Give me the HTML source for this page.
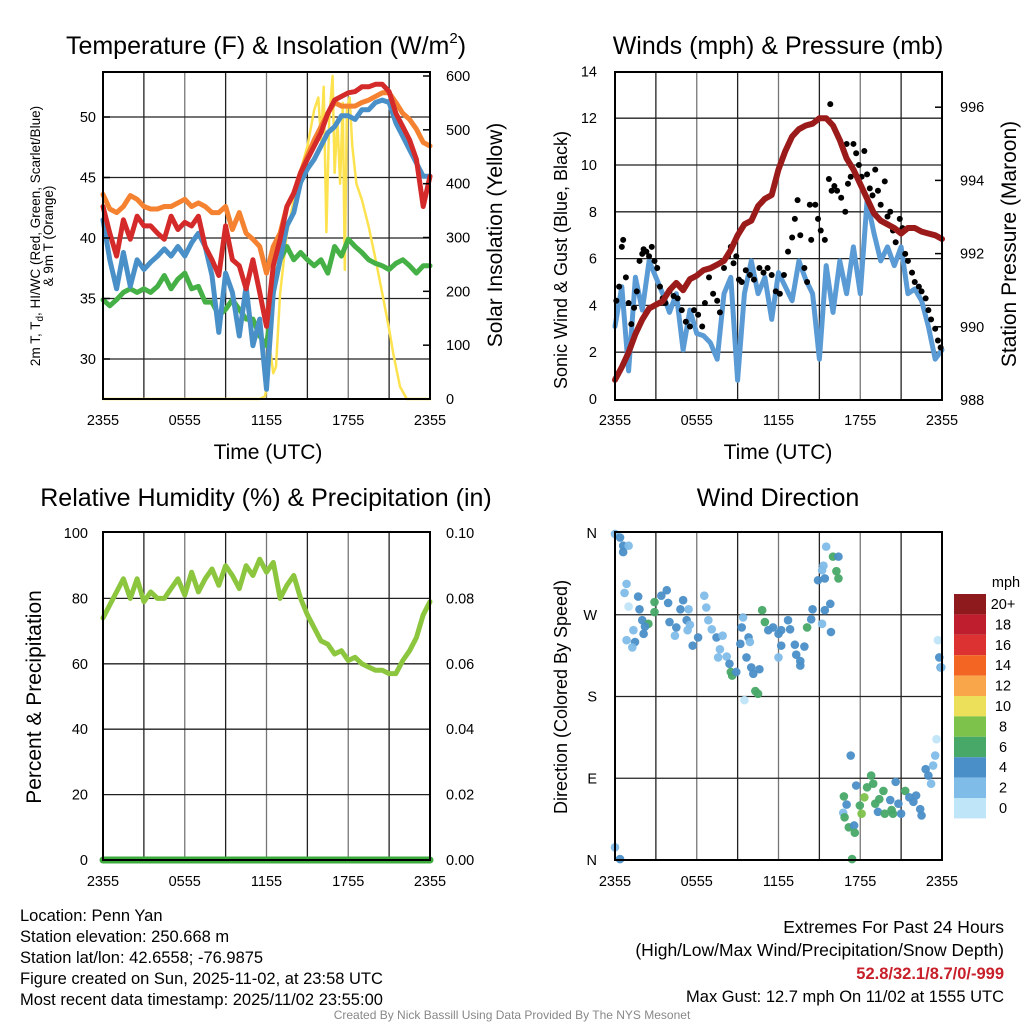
<!DOCTYPE html>
<html><head><meta charset="utf-8"><style>
html,body{margin:0;padding:0;background:#fff;}
svg{display:block;font-family:"Liberation Sans",sans-serif;}
</style></head><body>
<svg id="s" width="1024" height="1024" viewBox="0 0 1024 1024"></svg>
<script>
// ---------- DATA ----------
const hours = [0,0.5,1,1.5,2,2.5,3,3.5,4,4.5,5,5.5,6,6.5,7,7.5,8,8.5,9,9.5,10,10.5,11,11.5,12,12.5,13,13.5,14,14.5,15,15.5,16,16.5,17,17.5,18,18.5,19,19.5,20,20.5,21,21.5,22,22.5,23,23.5,24];
const tempRed = [42.6,40.4,38.5,41.5,39.9,41.8,41.0,41.0,40.4,39.9,41.8,40.7,41.3,41.0,41.8,39.3,38.2,36.9,41.0,38.2,37.7,35.8,38.2,35.5,32.7,37.7,39.9,42.6,43.7,45.4,46.5,47.6,48.7,50.3,51.4,51.7,52.0,52.1,52.5,52.5,52.7,52.7,52.1,50.3,49.2,48.1,46.5,42.6,45.1];
const tempOrange = [43.6,42.4,42.1,42.6,43.5,43.2,42.6,42.4,42.4,42.6,42.6,42.9,43.2,42.6,42.9,42.6,42.1,42.1,42.6,40.7,42.1,40.4,39.9,39.3,37.1,39.3,40.4,42.6,43.7,45.4,46.8,48.1,49.2,50.3,51.2,50.9,50.9,50.9,51.2,51.4,51.7,52.0,52.0,51.2,50.3,49.8,49.0,47.9,47.6];
const tempBlue = [41.5,38.2,35.8,38.8,36.0,38.2,37.4,38.0,38.5,39.1,38.5,39.3,38.5,39.6,40.4,39.3,36.9,32.2,37.1,35.5,31.9,36.0,31.1,33.3,27.5,35.5,38.2,41.0,42.1,44.6,45.7,46.5,47.6,48.7,49.2,50.1,50.1,49.8,50.6,50.6,51.2,51.4,51.2,49.5,48.4,47.3,46.2,45.1,45.1];
const tempGreen = [34.9,34.4,34.9,35.5,35.8,35.5,35.8,35.5,36.0,36.9,35.8,36.6,37.1,35.8,36.0,34.7,34.7,33.6,34.1,34.9,34.1,33.3,33.3,31.9,31.1,35.5,38.2,39.3,38.2,38.8,38.2,37.7,38.2,37.1,39.3,38.5,39.9,39.3,38.8,38.2,37.9,37.7,37.4,37.9,38.2,37.7,37.1,37.7,37.7];
const solarHours = [0,11.5,11.9,12.1,12.3,12.5,12.7,13,13.5,14,14.5,15,15.5,15.8,16.0,16.2,16.4,16.6,16.85,17.0,17.2,17.4,17.6,17.75,17.9,18.1,18.3,18.6,19.0,19.5,20,20.5,21,21.3,21.8,22.3,24];
const solar = [0,0,5,40,85,48,60,196,308,370,425,469,537,560,480,580,310,520,600,420,520,400,550,240,540,560,470,400,370,320,260,196,130,85,23,0,0];
const sonicWind = [3.1,4.8,1.2,5.2,3.8,5.9,5.2,4.5,3.7,4.5,2.1,3.8,2.8,2.7,2.4,1.7,4.5,5.2,0.8,4.5,5.9,4.5,5.2,3.4,5.4,4.8,4.2,5.9,5.1,4.5,1.7,5.7,3.7,5.9,4.5,6.5,4.5,8.5,7.1,5.9,6.5,5.7,6.5,4.5,4.7,4.2,3.1,1.7,2.1];
const pressure = [988.55,988.9,989.3,989.8,990.2,990.5,990.6,990.7,991.0,991.2,991.0,991.3,991.4,991.55,991.6,991.7,991.8,992.1,992.5,992.8,992.9,993.3,993.5,993.6,994.3,994.8,995.2,995.4,995.5,995.55,995.7,995.7,995.5,995.1,994.6,994.3,993.9,993.5,993.1,992.9,992.8,992.7,992.55,992.7,992.7,992.6,992.55,992.5,992.4];
const gustHours = [0.1,0.3,0.5,0.6,0.8,1.0,1.2,1.4,1.6,1.8,2.0,2.1,2.3,2.5,2.7,2.9,3.1,3.3,3.5,3.7,4.0,4.3,4.6,4.9,5.2,5.5,5.8,6.1,6.4,6.6,6.9,7.2,7.5,7.7,8.0,8.3,8.5,8.7,8.9,9.1,9.3,9.6,9.9,10.2,10.6,10.9,11.2,11.5,11.8,12.1,12.4,12.7,13.0,13.2,13.4,13.6,13.9,14.1,14.4,14.7,14.9,15.1,15.4,15.7,15.9,16.1,16.3,16.6,16.9,17.1,17.3,17.5,17.7,17.9,18.1,18.3,18.5,18.7,18.9,19.1,19.3,19.5,19.8,20.0,20.2,20.4,20.6,20.9,21.1,21.3,21.5,21.8,22.0,22.3,22.5,22.8,23.0,23.2,23.5,23.7,23.9,15.8,17.0,14.3];
const gusts = [4.2,4.8,6.5,6.8,5.2,4.1,3.2,3.9,4.6,5.9,6.2,6.4,6.3,6.1,6.5,5.9,5.6,4.8,4.3,4.1,4.6,4.4,4.3,3.8,3.3,3.1,3.8,3.6,3.1,4.1,5.2,4.5,4.2,3.7,5.6,6.1,6.5,5.8,6.1,5.1,5.0,5.5,5.3,5.1,5.6,5.4,5.6,5.3,4.6,4.5,5.3,6.3,6.9,7.7,8.5,7.0,5.6,5.0,6.8,8.3,7.7,7.2,6.8,9.4,8.9,9.1,8.9,8.6,8.0,9.2,9.5,10.9,10.5,10.0,9.5,10.6,9.6,9.0,8.7,9.8,8.9,8.3,9.3,7.8,8.0,7.2,6.7,7.7,7.3,6.2,5.9,5.4,5.0,4.8,4.6,4.3,3.8,3.4,3.0,2.5,2.2,12.6,10.9,8.3];
const rh = [74,78,82,86,80,86,79,82,80,80,83,86,81,88,82,86,89,84,90,87,83,90,87,92,88,91,80,84,87,80,75,71,67,66,63,64,61,62,60,59,58,58,57,57,61,64,68,75,79];
const precip = [0,0,0,0,0,0,0,0,0,0,0,0,0,0,0,0,0,0,0,0,0,0,0,0,0,0,0,0,0,0,0,0,0,0,0,0,0,0,0,0,0,0,0,0,0,0,0,0,0];
const dirHours = [0,0.37,0.6,1,0.6,0.85,0.7,1.7,1.0,1.8,2,2.45,2.2,1.35,0.85,1.47,1.27,2.1,2.9,2.9,3.4,3.8,3.9,4.0,4.4,4.5,4.8,5.0,5.4,5.26,5.5,5.33,5.7,6.1,6.55,6.7,6.85,7.1,7.45,7.9,7.7,7.57,8.2,8.4,8.5,8.6,8.9,9.2,9.3,9.4,9.8,9.65,9.9,10.0,10.15,10.6,10.3,10.5,9.5,10.8,11.0,11.25,11.6,12.0,12.2,12.7,12.85,12.0,12.2,13.2,13.3,13.6,13.6,13.9,14.1,14.4,14.5,15.2,15.4,15.85,15.8,14.9,15.4,15.3,15.2,15.5,16.0,16.4,16.25,16.4,17.3,16.8,17.0,16.75,16.85,17.16,17.55,17.6,17.4,17.7,17.97,18.1,18.3,18.5,18.8,18.95,19.1,19.3,19.4,19.7,19.8,20.2,20.3,20.4,20.6,20.8,21.0,21.3,21.6,21.9,22.1,22.4,22.5,22.8,23.0,23.2,23.35,23.5,23.6,23.7,23.8,23.9,23.95,0,0.37];
const dirDeg = [359,355,346,346,339,304,294,290,279,276,264,260,257,253,242,240,234,249,284,273,291,297,283,262,247,256,276,286,276,264,259,253,236,245,291,278,264,254,245,247,232,223,224,216,207,203,207,238,256,267,245,223,240,212,205,210,186,183,176,275,262,253,256,249,253,264,254,223,236,237,226,219,214,235,256,265,276,260,275,251,282,308,310,324,319,345,334,334,318,310,115,70,61,52,47,36,38,30,1,82,60,51,69,80,93,84,62,53,67,76,51,66,55,51,86,62,51,76,69,64,71,56,49,100,93,84,104,115,133,242,223,212,212,14,1];
const dirSpeed = [3,4,4,2,4,2,2,4,1,4,4,6,4,2,2,4,2,4,6,6,4,4,4,4,2,4,4,4,2,4,2,2,4,4,2,2,2,2,4,2,2,2,2,4,6,6,4,4,4,2,4,4,2,4,4,4,6,6,1,6,6,4,4,4,4,4,4,2,4,4,4,4,4,4,6,4,4,2,4,4,4,4,4,2,2,2,6,4,6,6,4,6,4,2,6,6,4,6,6,4,6,8,8,6,6,6,6,4,6,6,6,4,6,6,4,4,4,6,4,4,4,4,4,4,4,2,2,2,1,1,4,4,2,2,4];
const speedLabels = ["20+","18","16","14","12","10","8","6","4","2","0"];
const speedColors = ["#8e1a1e","#be1e2d","#dc3232","#f26522","#f9a54a","#ece05a","#7dc24b","#48a868","#4a8fc8","#80bce8","#bfe5f8"];

// ---------- HELPERS ----------
const NS="http://www.w3.org/2000/svg";
const svg=document.getElementById('s');
function mk(tag,attrs,parent){const e=document.createElementNS(NS,tag);for(const k in attrs)e.setAttribute(k,attrs[k]);(parent||svg).appendChild(e);return e;}
function txt(x,y,s,size,anchor,extra){const e=mk('text',Object.assign({x:x,y:y,'font-size':size,'text-anchor':anchor||'middle',fill:'#000'},extra||{}));e.textContent=s;return e;}
const W=327/24;
function xL(h){return 103+h*W;}
function xR(h){return 615+h*W;}
function yT(f){return 117+(50-f)*12.1;}
function yS(w){return 399-w*(323/600);}
function yW(w){return 399-w*23.4;}
function yP(p){return 400-(p-988)*36.6;}
function yRH(r){return 860-r*3.27;}
function yPr(p){return 860-p*3270;}
function yD(d){return 860-d*0.9083;}
function line(xs,ys,fx,fy,color,w,name){
  let d='';for(let i=0;i<xs.length;i++){d+=(i?'L':'M')+fx(xs[i]).toFixed(1)+','+fy(ys[i]).toFixed(1);}
  const p=mk('path',{d:d,fill:'none',stroke:color,'stroke-width':w,'stroke-linejoin':'round','stroke-linecap':'round'});
  
  
  return p;
}
function grid(x0,y0,x1,y1,hs,name){
  const g=mk('g',{});
  
  
  for(let i=1;i<8;i++){const x=x0+i*(x1-x0)/8;mk('line',{x1:x,y1:y0,x2:x,y2:y1,stroke:i%2?'#222':'#777','stroke-width':1.3},g);}
  hs.forEach(y=>mk('line',{x1:x0,y1:y,x2:x1,y2:y,stroke:'#222','stroke-width':1.3},g));
}
function frame(x0,y0,x1,y1,name){const r=mk('rect',{x:x0,y:y0,width:x1-x0,height:y1-y0,fill:'none',stroke:'#000','stroke-width':2});
  
  }
function xTicks(x0,x1,y){const labs=['2355','0555','1155','1755','2355'];labs.forEach((l,i)=>{const t=txt(x0+i*(x1-x0)/4,y,l,14.5);
  
  });}

// ---------- PANEL 1 ----------
const t1=mk('text',{x:266,y:54,'font-size':25,'text-anchor':'middle',fill:'#000'});


t1.innerHTML='Temperature (F) &amp; Insolation (W/m<tspan font-size="15" dy="-11">2</tspan><tspan dy="11">)</tspan>';
grid(103,72,430,399,[30,35,40,45,50].map(yT),'temp-grid');
line(solarHours,solar,xL,yS,'#fde24f',2.5,'solar-line');
line(hours,tempGreen,xL,yT,'#45b045',5,'dewpoint-line');
line(hours,tempOrange,xL,yT,'#f58230',5,'temp-9m-line');
line(hours,tempBlue,xL,yT,'#4a90c8',5,'windchill-line');
line(hours,tempRed,xL,yT,'#d42a2a',5,'temp-2m-line');
frame(103,72,430,399,'temp-frame');
[30,35,40,45,50].forEach(v=>{txt(96,yT(v)+5,String(v),14.5,'end');mk('line',{x1:103,y1:yT(v),x2:110,y2:yT(v),stroke:'#000','stroke-width':1.5});});
[0,100,200,300,400,500,600].forEach(v=>{txt(446,yS(v)+5,String(v),14.5,'start');mk('line',{x1:423,y1:yS(v),x2:430,y2:yS(v),stroke:'#000','stroke-width':1.5});});
xTicks(103,430,425);
txt(268,459,'Time (UTC)',21);
const yl1=mk('text',{transform:'translate(40,236) rotate(-90)','font-size':13.5,'text-anchor':'middle'});


yl1.innerHTML='2m T, T<tspan font-size="10" dy="3">d</tspan><tspan dy="-3">, HI/WC (Red, Green, Scarlet/Blue)</tspan>';
txt(0,0,'& 9m T (Orange)',13.5,'middle',{transform:'translate(53,236) rotate(-90)'});
txt(0,0,'Solar Insolation (Yellow)',21,'middle',{transform:'translate(502,235) rotate(-90)'});

// ---------- PANEL 2 ----------
txt(778,54,'Winds (mph) & Pressure (mb)',25);
grid(615,72,942,400,[2,4,6,8,10,12].map(yW),'winds-grid');
line(hours,sonicWind,xR,yW,'#5b9bd5',5,'sonic-wind-line');
gustHours.forEach((h,i)=>{const c=mk('circle',{cx:xR(h),cy:yW(gusts[i]),r:3,fill:'#000'});
  
  });
line(hours,pressure,xR,yP,'#9b1b1b',6,'pressure-line');
frame(615,72,942,400,'winds-frame');
[0,2,4,6,8,10,12,14].forEach(v=>{txt(597,yW(v)+5,String(v),14.5,'end');});
[988,990,992,994,996].forEach(v=>{txt(960,yP(v)+5,String(v),14.5,'start');mk('line',{x1:935,y1:yP(v),x2:942,y2:yP(v),stroke:'#000','stroke-width':1.5});});
xTicks(615,942,425);
txt(778,459,'Time (UTC)',21);
txt(0,0,'Sonic Wind & Gust (Blue, Black)',18,'middle',{transform:'translate(567,260) rotate(-90)'});
txt(0,0,'Station Pressure (Maroon)',21,'middle',{transform:'translate(1016,244) rotate(-90)'});

// ---------- PANEL 3 ----------
txt(266,506,'Relative Humidity (%) & Precipitation (in)',25);
grid(103,532,430,860,[20,40,60,80].map(yRH),'rh-grid');
line(hours,rh,xL,yRH,'#8cc63f',5,'rh-line');
line(hours,precip,xL,yPr,'#3daa3d',7,'precip-line');
frame(103,532,430,860,'rh-frame');
[0,20,40,60,80,100].forEach(v=>{txt(88,yRH(v)+5,String(v),14.5,'end');});
['0.00','0.02','0.04','0.06','0.08','0.10'].forEach((l,i)=>{txt(446,yRH(i*20)+5,l,14.5,'start');});
xTicks(103,430,886);
txt(0,0,'Percent & Precipitation',21,'middle',{transform:'translate(41,697) rotate(-90)'});

// ---------- PANEL 4 ----------
txt(778,506,'Wind Direction',25);
grid(615,532,942,860,[90,180,270].map(yD),'direction-grid');
dirHours.forEach((h,i)=>{const k=Math.min(10,Math.floor(dirSpeed[i]/2));
  const c=mk('circle',{cx:xR(h),cy:yD(dirDeg[i]),r:4.3,fill:speedColors[10-k],opacity:0.95});
  
  });
frame(615,532,942,860,'direction-frame');
['N','E','S','W','N'].forEach((l,i)=>{txt(597,yD(i*90)+5,l,14.5,'end');});
xTicks(615,942,886);
txt(0,0,'Direction (Colored By Speed)',18,'middle',{transform:'translate(567,697) rotate(-90)'});
// colorbar
txt(1006,587,'mph',14.5,'middle');
speedLabels.forEach((l,i)=>{const y=594+i*20.4;
  const r=mk('rect',{x:954,y:y,width:32,height:20.4,fill:speedColors[i]});
  
  
  txt(1003,y+15,l,14.5,'middle');});

// ---------- FOOTER ----------
['Location: Penn Yan','Station elevation: 250.668 m','Station lat/lon: 42.6558; -76.9875','Figure created on Sun, 2025-11-02, at 23:58 UTC','Most recent data timestamp: 2025/11/02 23:55:00'].forEach((s,i)=>{
  const t=txt(20,921+i*21,s,16.5,'start');
  
  });
txt(1004,933,'Extremes For Past 24 Hours',17.5,'end');
txt(1004,956,'(High/Low/Max Wind/Precipitation/Snow Depth)',17.5,'end');
txt(1004,979,'52.8/32.1/8.7/0/-999',16.5,'end',{fill:'#c8202a','font-weight':'bold'});
txt(1004,1002,'Max Gust: 12.7 mph On 11/02 at 1555 UTC',16.5,'end');
txt(512,1019,'Created By Nick Bassill Using Data Provided By The NYS Mesonet',12,'middle',{fill:'#888'});
</script>
</body></html>
